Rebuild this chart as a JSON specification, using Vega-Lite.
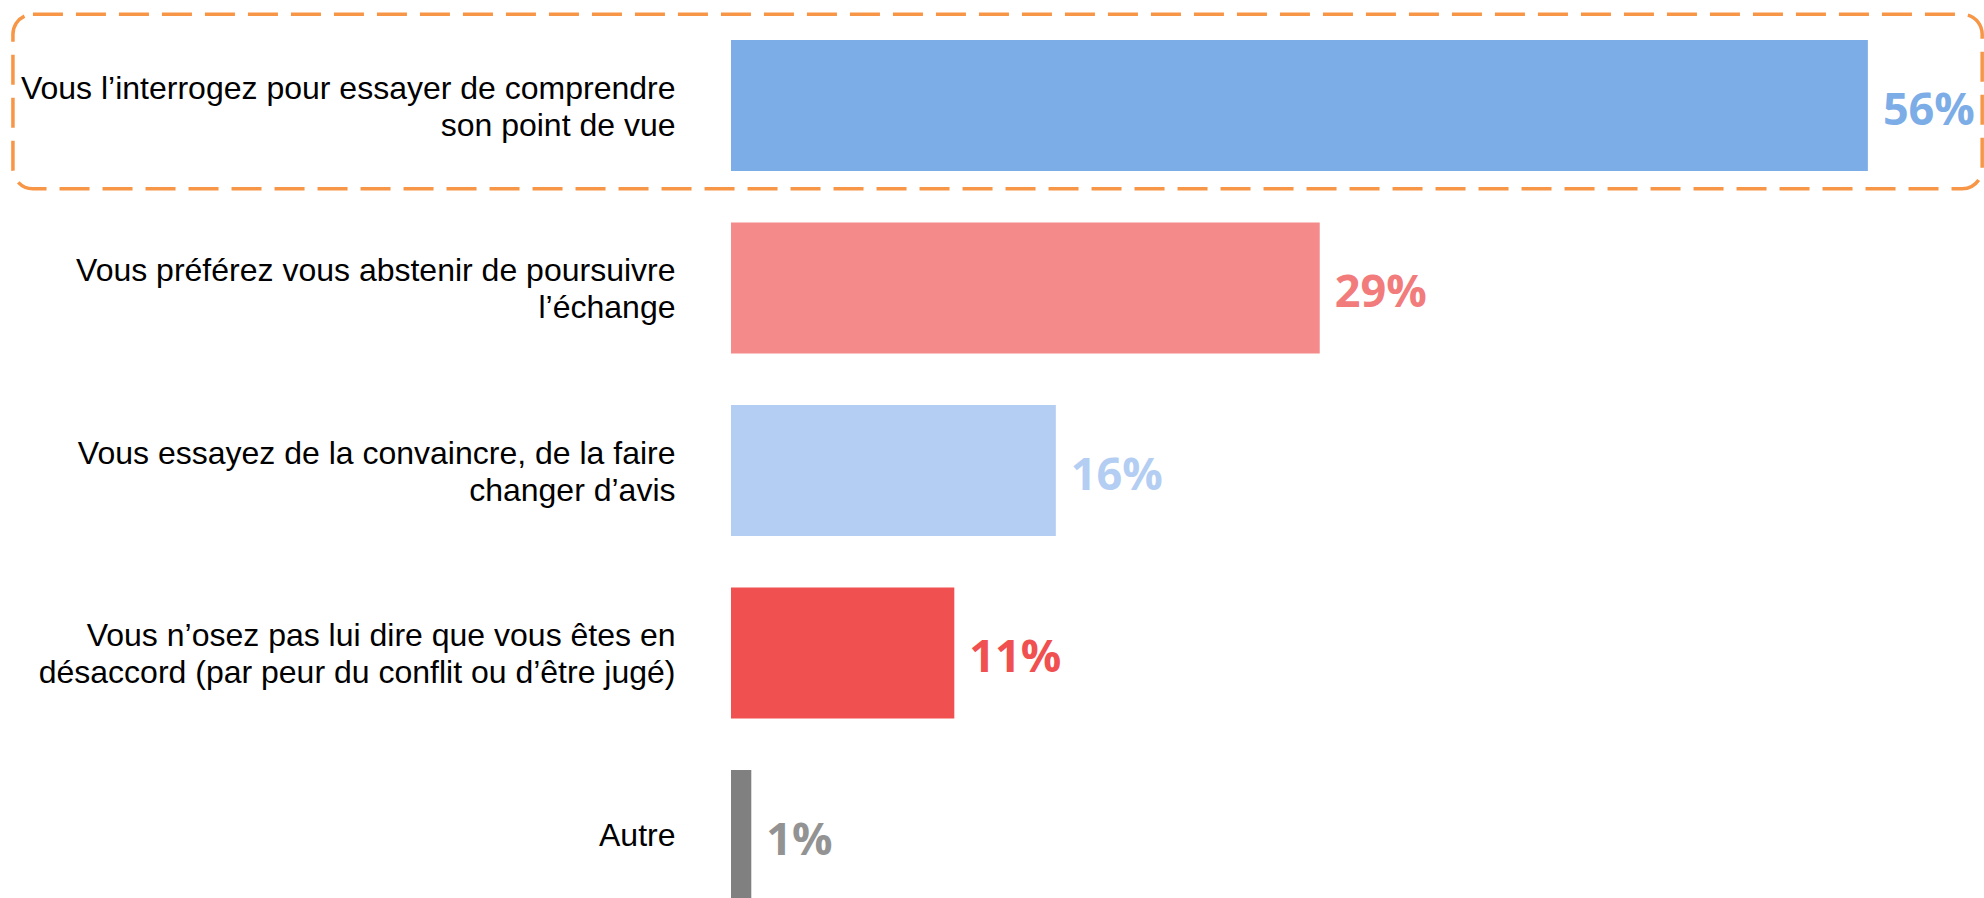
{
  "$schema": "https://vega.github.io/schema/vega-lite/v6.json",
  "autosize": {"type": "none"},
  "width": 1253,
  "height": 898,
  "padding": {"left": 731, "top": 0, "right": 0, "bottom": 0},
  "background": "#ffffff",
  "config": {"view": {"stroke": null}},
  "datasets": {
    "bars": [
      {"cat": "Vous l’interrogez pour essayer de comprendre|son point de vue", "key": "interroger", "value": 56, "label": "56%"},
      {"cat": "Vous préférez vous abstenir de poursuivre|l’échange", "key": "abstenir", "value": 29, "label": "29%"},
      {"cat": "Vous essayez de la convaincre, de la faire|changer d’avis", "key": "convaincre", "value": 16, "label": "16%"},
      {"cat": "Vous n’osez pas lui dire que vous êtes en|désaccord (par peur du conflit ou d’être jugé)", "key": "oser", "value": 11, "label": "11%"},
      {"cat": "Autre", "key": "autre", "value": 1, "label": "1%"}
    ],
    "box": [
      {"cat": "Vous l’interrogez pour essayer de comprendre|son point de vue", "x0": -35.37, "x1": 61.63}
    ]
  },
  "encoding": {
    "y": {
      "field": "cat",
      "type": "nominal",
      "sort": null,
      "scale": {"range": [14.3, 926.8], "paddingInner": 0.282, "paddingOuter": 0.141},
      "axis": {
        "title": null,
        "domain": false,
        "ticks": false,
        "grid": false,
        "labelFont": "Liberation Sans",
        "labelFontSize": 32,
        "labelColor": "#000000",
        "labelLineHeight": 37,
        "labelAlign": "right",
        "labelBaseline": "middle",
        "labelPadding": 56,
        "labelLimit": 0,
        "labelOffset": {"condition": {"test": "indexof(datum.value, '|') >= 0", "value": -17}, "value": 0},
        "labelExpr": "split(datum.label, '|')"
      }
    }
  },
  "layer": [
    {
      "data": {"name": "box"},
      "mark": {"type": "bar", "height": {"band": 1.332}, "fillOpacity": 0, "fill": "#ffffff", "stroke": "#F79646", "strokeWidth": 3.5, "strokeDash": [30, 13], "cornerRadius": 20},
      "encoding": {
        "x": {"field": "x0", "type": "quantitative", "scale": {"domain": [0, 61.72], "nice": false, "zero": true}, "axis": null},
        "x2": {"field": "x1"},
        "yOffset": {"value": -4}
      }
    },
    {
      "data": {"name": "bars"},
      "mark": {"type": "bar"},
      "encoding": {
        "x": {"field": "value", "type": "quantitative", "scale": {"domain": [0, 61.72], "nice": false, "zero": true}, "axis": null},
        "color": {
          "field": "key",
          "type": "nominal",
          "scale": {"domain": ["interroger", "abstenir", "convaincre", "oser", "autre"], "range": ["#7DADE6", "#F58A8A", "#B3CEF2", "#F15050", "#808080"]},
          "legend": null
        }
      }
    },
    {
      "data": {"name": "bars"},
      "mark": {"type": "text", "align": "left", "baseline": "middle", "dx": 15, "dy": 5, "font": "Open Sans", "fontWeight": "bold", "fontSize": 45},
      "encoding": {
        "x": {"field": "value", "type": "quantitative", "scale": {"domain": [0, 61.72], "nice": false, "zero": true}, "axis": null},
        "text": {"field": "label"},
        "color": {
          "field": "key",
          "type": "nominal",
          "scale": {"domain": ["interroger", "abstenir", "convaincre", "oser", "autre"], "range": ["#7DADE6", "#F27B7B", "#B3CEF2", "#F05050", "#939393"]},
          "legend": null
        }
      }
    }
  ],
  "resolve": {"scale": {"color": "independent"}}
}
